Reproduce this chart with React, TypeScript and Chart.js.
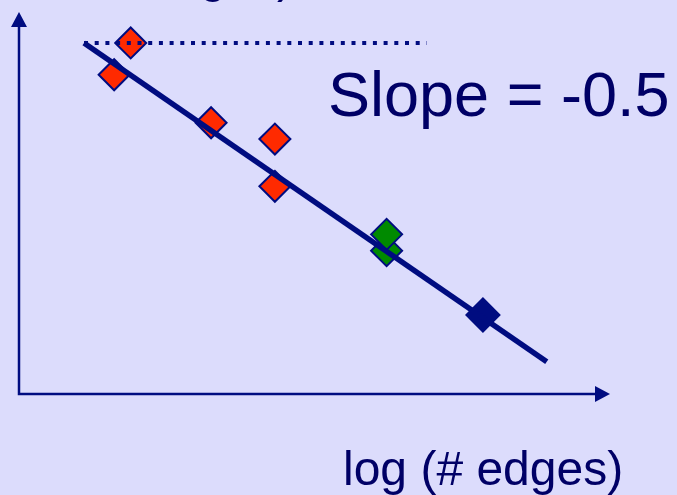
import React, { useEffect, useRef } from "react";
import { Chart, registerables } from "chart.js";

Chart.register(...registerables);

// Measurements in log units: x = log(# edges), y = log(time / # edges)
const redPoints = [
  { x: 1.89, y: 4.31 },
  { x: 1.61, y: 3.92 },
  { x: 3.25, y: 3.33 },
  { x: 4.33, y: 3.13 },
  { x: 4.33, y: 2.55 },
];
const greenPoints = [
  { x: 6.22, y: 1.76 },
  { x: 6.22, y: 1.96 },
];
const navyPoints = [{ x: 7.85, y: 0.97 }];

// Fitted trend (slope -0.5) and the flat reference level
const fitLine = [
  { x: 1.1, y: 4.31 },
  { x: 8.93, y: 0.395 },
];
const flatLine = [
  { x: 1.1, y: 4.31 },
  { x: 6.9, y: 4.31 },
];

const xRange = [0, 10];
const yRange = [0, 4.69];

const slopeLabel = "Slope = -0.5";
const xTitle = "log (# edges)";
const yTitle = "log (time / # edges)";

const BG = "#dcdcfc";
const NAVY = "#000c80";
const TEXT = "#000066";
const RED = "#ff2a00";
const GREEN = "#008a00";

const FONT = '"Liberation Sans", Arial, sans-serif';

const axesPlugin = {
  id: "arrowAxes",
  beforeDatasetsDraw(chart: any) {
    const { ctx, chartArea } = chart;
    const { left, top, right, bottom } = chartArea;
    ctx.save();
    ctx.strokeStyle = NAVY;
    ctx.fillStyle = NAVY;
    ctx.lineWidth = 2.5;
    ctx.beginPath();
    ctx.moveTo(left, top + 14);
    ctx.lineTo(left, bottom);
    ctx.lineTo(right - 14, bottom);
    ctx.stroke();
    // arrow heads
    ctx.beginPath();
    ctx.moveTo(left, top);
    ctx.lineTo(left - 8, top + 15);
    ctx.lineTo(left + 8, top + 15);
    ctx.closePath();
    ctx.fill();
    ctx.beginPath();
    ctx.moveTo(right, bottom);
    ctx.lineTo(right - 15, bottom - 8);
    ctx.lineTo(right - 15, bottom + 8);
    ctx.closePath();
    ctx.fill();
    ctx.restore();
  },
  afterDraw(chart: any) {
    const { ctx } = chart;
    ctx.save();
    ctx.fillStyle = TEXT;
    ctx.textBaseline = "alphabetic";
    ctx.textAlign = "left";
    ctx.font = `63px ${FONT}`;
    ctx.fillText(slopeLabel, 328, 116);
    ctx.font = `48px ${FONT}`;
    ctx.fillText(xTitle, 343, 485);
    ctx.textAlign = "right";
    ctx.fillText(yTitle, 293, -8);
    ctx.restore();
  },
};

export default function App() {
  const canvasRef = useRef<HTMLCanvasElement | null>(null);

  useEffect(() => {
    const canvas = canvasRef.current;
    if (!canvas) return;
    const chart = new Chart(canvas, {
      type: "scatter",
      data: {
        datasets: [
          {
            data: fitLine,
            showLine: true,
            borderColor: NAVY,
            borderWidth: 5.5,
            pointRadius: 0,
            borderCapStyle: "butt",
          },
          {
            data: flatLine,
            showLine: true,
            borderColor: NAVY,
            borderWidth: 4,
            borderDash: [4, 6.7],
            borderCapStyle: "butt",
            pointRadius: 0,
          },
          {
            data: navyPoints,
            pointStyle: "rectRot",
            pointRadius: 16.5,
            backgroundColor: NAVY,
            borderColor: NAVY,
            borderWidth: 2,
          },
          {
            data: greenPoints,
            pointStyle: "rectRot",
            pointRadius: 15.5,
            backgroundColor: GREEN,
            borderColor: NAVY,
            borderWidth: 2,
          },
          {
            data: redPoints,
            pointStyle: "rectRot",
            pointRadius: 15.5,
            backgroundColor: RED,
            borderColor: NAVY,
            borderWidth: 2,
          },
        ],
      },
      options: {
        responsive: false,
        animation: false,
        layout: {
          autoPadding: false,
          padding: { left: 19, top: 12, right: 67, bottom: 101 },
        },
        plugins: {
          legend: { display: false },
          tooltip: { enabled: false },
        },
        scales: {
          x: { type: "linear", display: false, min: xRange[0], max: xRange[1] },
          y: { type: "linear", display: false, min: yRange[0], max: yRange[1] },
        },
        events: [],
      },
      plugins: [axesPlugin],
    } as any);
    return () => chart.destroy();
  }, []);

  return (
    <div
      style={{
        position: "fixed",
        left: 0,
        top: 0,
        width: 677,
        height: 495,
        background: BG,
      }}
    >
      <canvas ref={canvasRef} width={677} height={495} style={{ display: "block" }} />
    </div>
  );
}
